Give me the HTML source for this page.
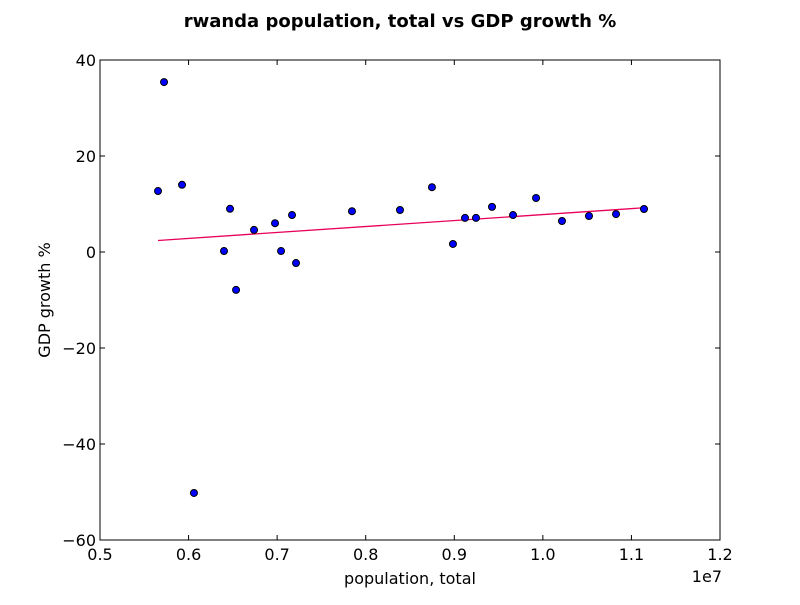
<!DOCTYPE html>
<html><head><meta charset="utf-8"><style>
body{margin:0;background:#fff;}
svg text{font-family:"DejaVu Sans","Liberation Sans",sans-serif;}
</style></head><body>
<svg id="chart" width="800" height="600" xmlns="http://www.w3.org/2000/svg">
<rect width="800" height="600" fill="#fff"/>
<text x="400" y="27" text-anchor="middle" font-size="18" font-weight="bold">rwanda population, total vs GDP growth %</text>
<g id="axes"></g>
<g id="marks"></g>
<text x="410" y="584" text-anchor="middle" font-size="16">population, total</text>
<text x="50" y="300" text-anchor="middle" font-size="16" transform="rotate(-90 50 300)">GDP growth %</text>
<text x="722" y="582" text-anchor="end" font-size="16">1e7</text>
</svg>
<script>
const population = [0.5655,0.5723,0.5926,0.6061,0.640,0.6468,0.6536,0.6739,0.6976,0.7044,0.7168,0.7213,0.7845,0.8387,0.8748,0.8985,0.9121,0.9245,0.9426,0.9663,0.9923,1.0216,1.0521,1.0826,1.1142];
const gdpGrowth = [12.7,35.4,14.0,-50.2,0.2,9.0,-7.9,4.6,6.0,0.2,7.7,-2.3,8.5,8.75,13.5,1.67,7.1,7.1,9.4,7.7,11.25,6.46,7.5,7.9,8.96];
const xTicks = [0.5,0.6,0.7,0.8,0.9,1.0,1.1,1.2];
const xTickLabels = ["0.5","0.6","0.7","0.8","0.9","1.0","1.1","1.2"];
const yTicks = [-60,-40,-20,0,20,40];
const yTickLabels = ["\u221260","\u221240","\u221220","0","20","40"];

const L=100,R=720,T=60,B=540;
const xMin=0.5,xMax=1.2,yMin=-60,yMax=40;
const sx=v=>L+(v-xMin)/(xMax-xMin)*(R-L);
const sy=v=>B-(v-yMin)/(yMax-yMin)*(B-T);
const NS="http://www.w3.org/2000/svg";
function mk(tag,attrs,parent){const e=document.createElementNS(NS,tag);for(const k in attrs)e.setAttribute(k,attrs[k]);parent.appendChild(e);return e;}
const axes=document.getElementById('axes'),marks=document.getElementById('marks');

xTicks.forEach((t,i)=>{
  const x=sx(t);
  const a=mk('line',{x1:x,x2:x,y1:B,y2:B-5,stroke:'#000'},axes);
  
  
  mk('line',{x1:x,x2:x,y1:T,y2:T+5,stroke:'#000'},axes);
  const tx=mk('text',{x:x,y:B+20,'text-anchor':'middle','font-size':16},axes);
  tx.textContent=xTickLabels[i];
  
  
});
yTicks.forEach((t,i)=>{
  const y=sy(t);
  const a=mk('line',{x1:L,x2:L+5,y1:y,y2:y,stroke:'#000'},axes);
  
  
  mk('line',{x1:R,x2:R-5,y1:y,y2:y,stroke:'#000'},axes);
  const tx=mk('text',{x:L-4,y:y+6,'text-anchor':'end','font-size':16},axes);
  tx.textContent=yTickLabels[i];
  
  
});
const frame=mk('rect',{x:L,y:T,width:R-L,height:B-T,fill:'none',stroke:'#000'},axes);



// least squares fit
const n=population.length;
let mx=0,my=0;for(let i=0;i<n;i++){mx+=population[i];my+=gdpGrowth[i];}mx/=n;my/=n;
let sxy=0,sxx=0;for(let i=0;i<n;i++){sxy+=(population[i]-mx)*(gdpGrowth[i]-my);sxx+=(population[i]-mx)**2;}
const slope=sxy/sxx,icpt=my-slope*mx;
const x0=Math.min(...population),x1=Math.max(...population);
const fit=mk('line',{x1:sx(x0),y1:sy(icpt+slope*x0),x2:sx(x1),y2:sy(icpt+slope*x1),stroke:'#e8005a','stroke-width':1.3},marks);



population.forEach((p,i)=>{
  const c=mk('circle',{cx:sx(p),cy:sy(gdpGrowth[i]),r:3.5,fill:'#0000ff',stroke:'#000','stroke-width':1},marks);
  
  
});
</script>
</body></html>
